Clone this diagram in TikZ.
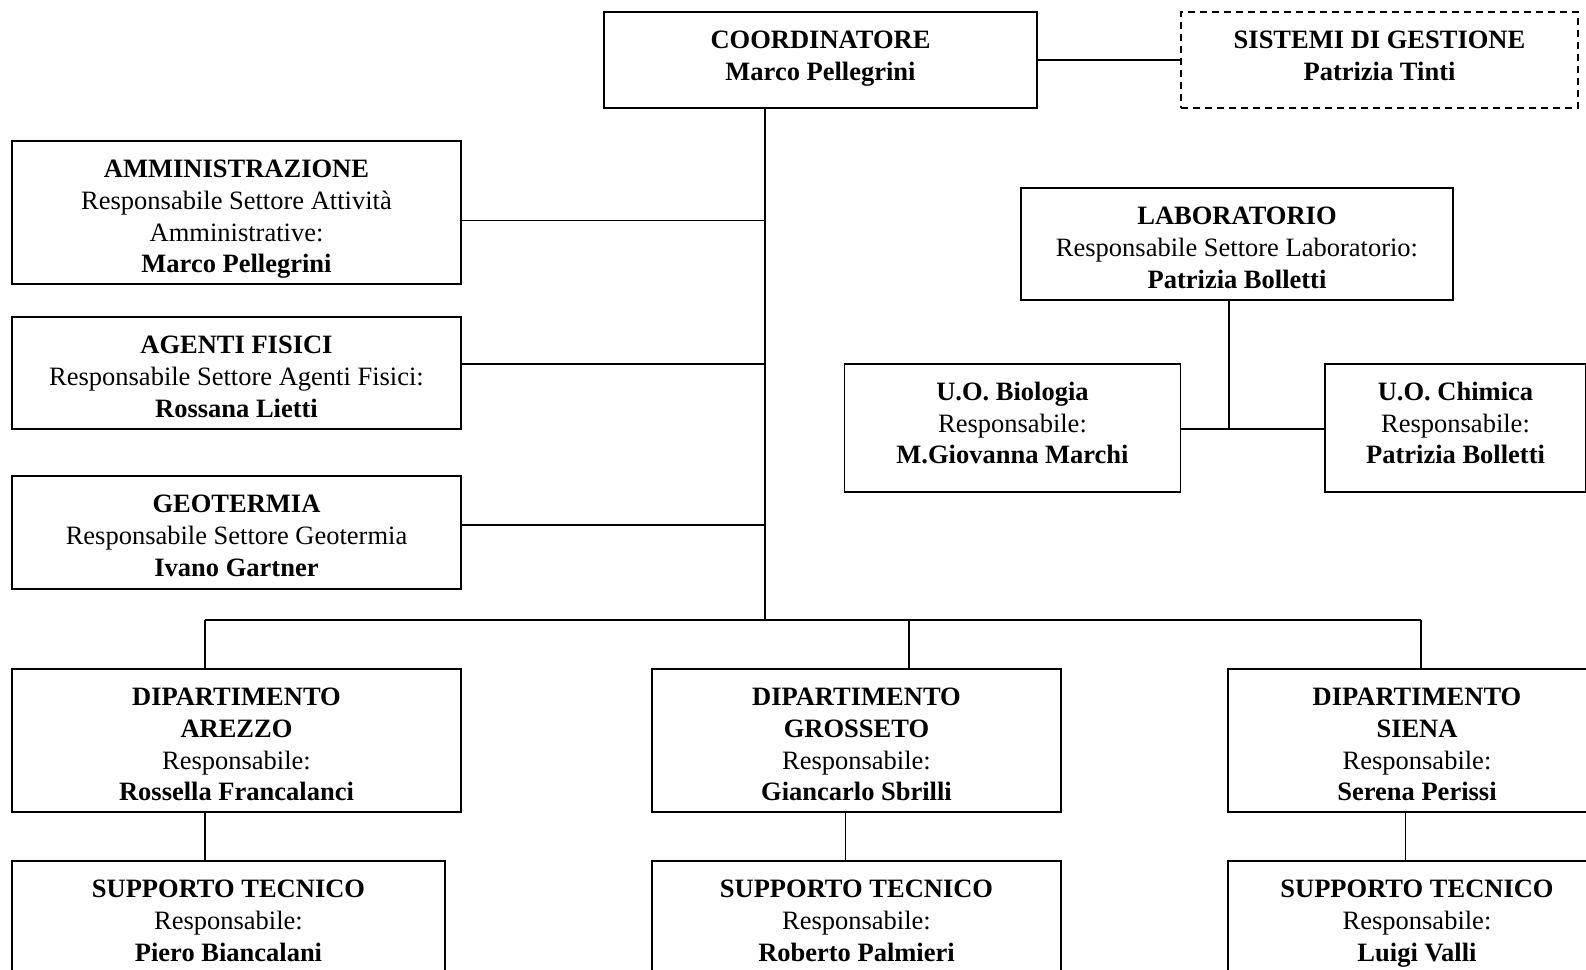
\documentclass[tikz,border=0pt]{standalone}
\usepackage{fontspec}
\setmainfont{Liberation Serif}
\newcommand{\bxt}[3]{\parbox[t][#2][t]{#1}{\centering\fontsize{26.5}{31.8}\selectfont\rule{0pt}{36.5pt}#3}}
\begin{document}
\begin{tikzpicture}[x=1pt,y=-1pt,
  box/.style={draw, line width=1.7pt, inner sep=0pt},
  link/.style={line width=1.7pt}]
\useasboundingbox (0,0) rectangle (1586,969);
\clip (0,0) rectangle (1586,969);
\node[box] (coord) at (820.5,60) {\bxt{433pt}{96pt}{\textbf{COORDINATORE}\\\textbf{Marco Pellegrini}}};
\node[box, dash pattern=on 7pt off 5pt] (sist) at (1379.5,60) {\bxt{397pt}{96pt}{\textbf{SISTEMI DI GESTIONE}\\\textbf{Patrizia Tinti}}};
\node[box] (amm) at (236.5,212.5) {\bxt{449pt}{143pt}{\textbf{AMMINISTRAZIONE}\\Responsabile Settore Attività\\Amministrative:\\\textbf{Marco Pellegrini}}};
\node[box] (agenti) at (236.5,373) {\bxt{449pt}{112pt}{\textbf{AGENTI FISICI}\\Responsabile Settore Agenti Fisici:\\\textbf{Rossana Lietti}}};
\node[box] (geo) at (236.5,532.5) {\bxt{449pt}{113pt}{\textbf{GEOTERMIA}\\Responsabile Settore Geotermia\\\textbf{Ivano Gartner}}};
\node[box] (lab) at (1237,244) {\bxt{432pt}{112pt}{\textbf{LABORATORIO}\\Responsabile Settore Laboratorio:\\\textbf{Patrizia Bolletti}}};
\node[box] (bio) at (1012.5,428) {\bxt{336pt}{128.6pt}{\textbf{U.O. Biologia}\\Responsabile:\\\textbf{M.Giovanna Marchi}}};
\node[box] (chim) at (1455.5,428) {\bxt{261pt}{128.6pt}{\textbf{U.O. Chimica}\\Responsabile:\\\textbf{Patrizia Bolletti}}};
\node[box] (dA) at (236.5,740.5) {\bxt{449pt}{143pt}{\textbf{DIPARTIMENTO}\\\textbf{AREZZO}\\Responsabile:\\\textbf{Rossella Francalanci}}};
\node[box] (dG) at (856.5,740.5) {\bxt{409pt}{143pt}{\textbf{DIPARTIMENTO}\\\textbf{GROSSETO}\\Responsabile:\\\textbf{Giancarlo Sbrilli}}};
\node[box] (dS) at (1417,740.5) {\bxt{378pt}{143pt}{\textbf{DIPARTIMENTO}\\\textbf{SIENA}\\Responsabile:\\\textbf{Serena Perissi}}};
\node[box] (sA) at (228.5,920) {\bxt{433pt}{118pt}{\textbf{SUPPORTO TECNICO}\\Responsabile:\\\textbf{Piero Biancalani}}};
\node[box] (sG) at (856.5,920) {\bxt{409pt}{118pt}{\textbf{SUPPORTO TECNICO}\\Responsabile:\\\textbf{Roberto Palmieri}}};
\node[box] (sS) at (1417,920) {\bxt{378pt}{118pt}{\textbf{SUPPORTO TECNICO}\\Responsabile:\\\textbf{Luigi Valli}}};
\coordinate (t) at (765,620);
\coordinate (bA) at (205,620);
\coordinate (bG) at (909,620);
\coordinate (bS) at (1421,620);
\coordinate (cG) at (845.5,0);
\coordinate (cS) at (1405.5,0);
\coordinate (lj) at (1229,429);
\draw[link] (coord.east) -- (sist.west);
\draw[link] (coord.south -| t) -- (t);
\draw[link] ([yshift=-8pt]amm.east) -- ([yshift=-8pt]amm.east -| t);
\draw[link] ([yshift=9pt]agenti.east) -- ([yshift=9pt]agenti.east -| t);
\draw[link] ([yshift=7.5pt]geo.east) -- ([yshift=7.5pt]geo.east -| t);
\draw[link] (bA) -- (bS);
\draw[link] (bA) -- (bA |- dA.north);
\draw[link] (bG) -- (bG |- dG.north);
\draw[link] (bS) -- (bS |- dS.north);
\draw[link] (dA.south -| bA) -- (sA.north -| bA);
\draw[link] (dG.south -| cG) -- (sG.north -| cG);
\draw[link] (dS.south -| cS) -- (sS.north -| cS);
\draw[link] (lab.south -| lj) -- (lj);
\draw[link] (bio.east |- lj) -- (chim.west |- lj);
\end{tikzpicture}
\end{document}
